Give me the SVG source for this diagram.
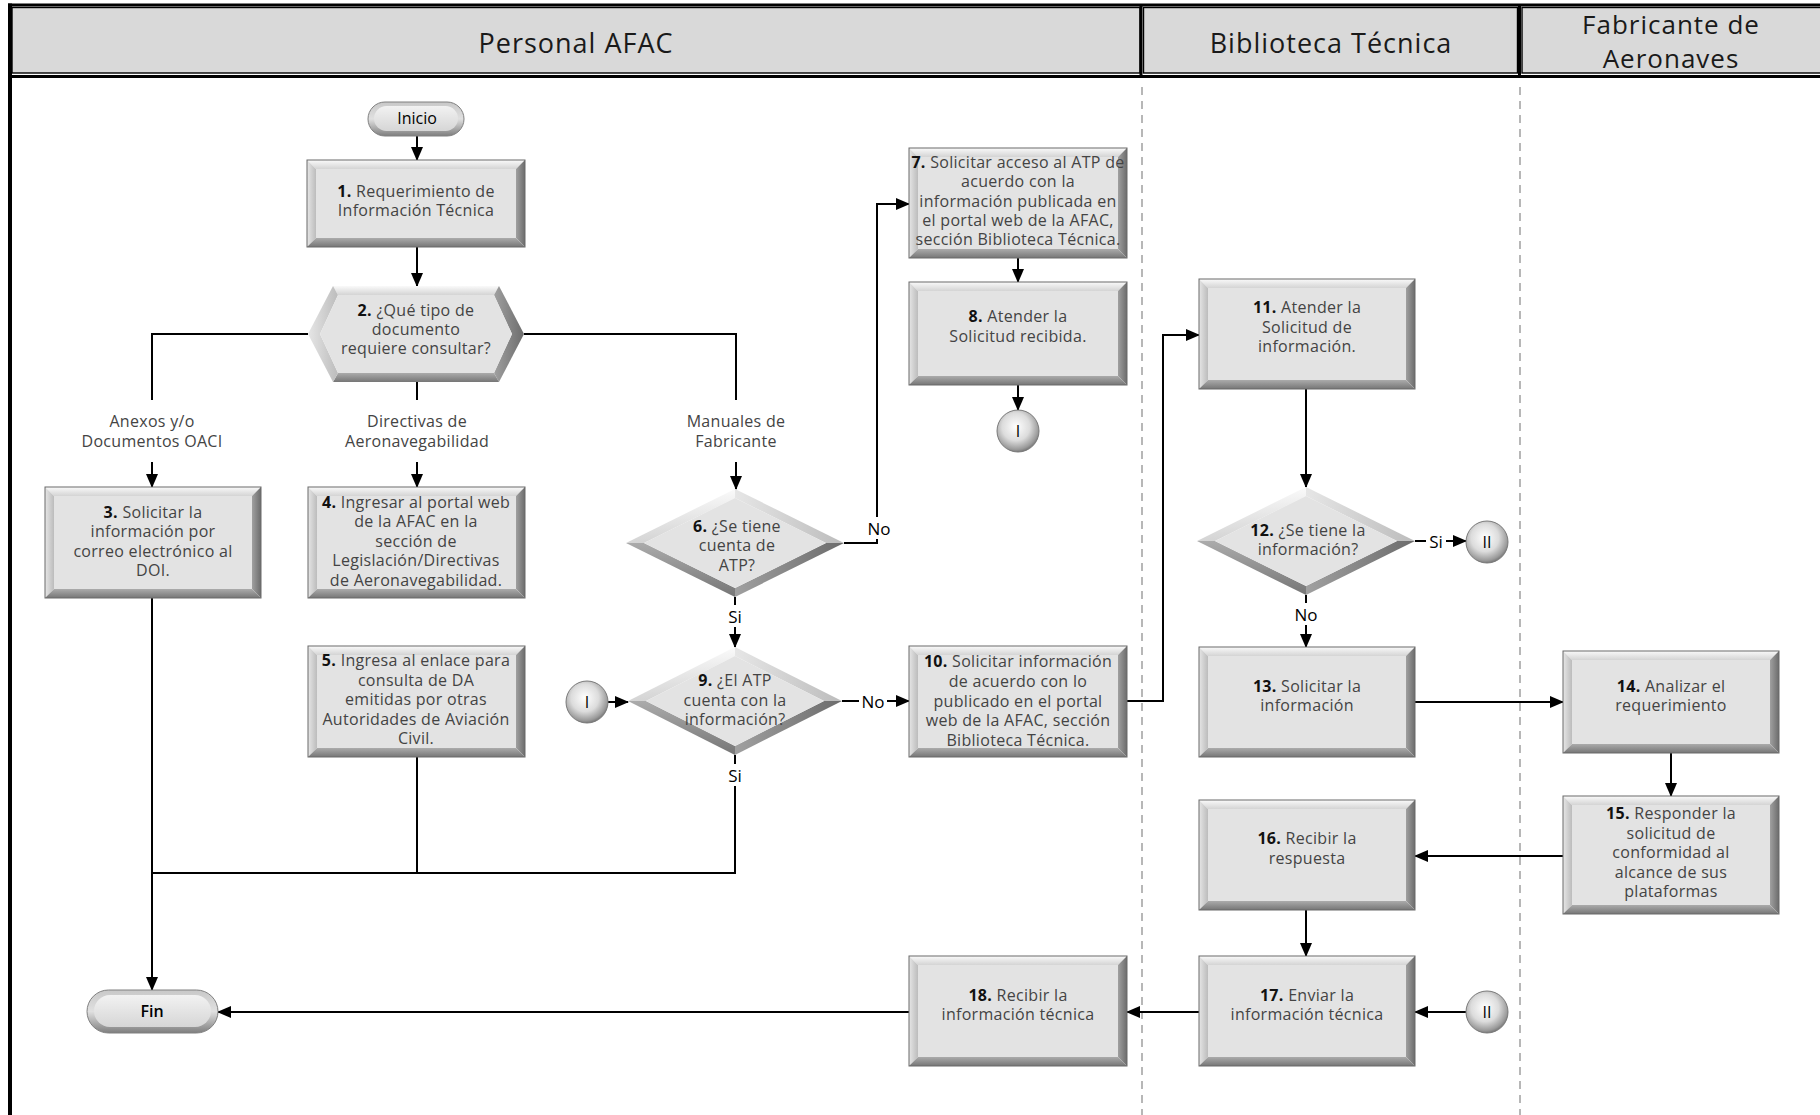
<svg xmlns="http://www.w3.org/2000/svg" width="1820" height="1115" viewBox="0 0 1820 1115">
<style>
.hd{fill:#d9d9d9;stroke:#000;stroke-width:1.4}
.ht{font-family:"Open Sans","Liberation Sans",sans-serif;font-size:27px;letter-spacing:1px;fill:#1a1a1a;text-anchor:middle;dominant-baseline:central}
.hs{font-size:26px}
.bt{fill:url(#gTop)}
.bl{fill:url(#gLeft)}
.br{fill:url(#gRight)}
.bb{fill:url(#gBot)}
.fc{fill:#e3e3e3}
.ol{fill:none;stroke:#6a6a6a;stroke-width:1}
.tx{font-family:"Open Sans","Liberation Sans",sans-serif;font-size:16px;letter-spacing:0.3px;fill:#444;text-anchor:middle;dominant-baseline:central}
.tx tspan.n{font-weight:700;fill:#111}
.lb{font-family:"Open Sans","Liberation Sans",sans-serif;font-size:17px;fill:#000;text-anchor:middle;dominant-baseline:central}
.cn{fill:none;stroke:#000;stroke-width:2}
.ar{marker-end:url(#arr)}
.lane{stroke:#a6a6a6;stroke-width:1.6;stroke-dasharray:8 6}
.wb{fill:#fff}
.ci{fill:url(#gCirc);stroke:#7a7a7a;stroke-width:1}
.ct{font-family:"Open Sans","Liberation Sans",sans-serif;font-size:16px;fill:#000;text-anchor:middle;dominant-baseline:central}
</style>
<defs>
<linearGradient id="gTop" x1="0" y1="0" x2="0" y2="1"><stop offset="0" stop-color="#fafafa"/><stop offset="1" stop-color="#d4d4d4"/></linearGradient>
<linearGradient id="gLeft" x1="0" y1="0" x2="1" y2="0"><stop offset="0" stop-color="#e6e6e6"/><stop offset="1" stop-color="#bcbcbc"/></linearGradient>
<linearGradient id="gRight" x1="0" y1="0" x2="1" y2="0"><stop offset="0" stop-color="#a0a0a0"/><stop offset="1" stop-color="#6c6c6c"/></linearGradient>
<linearGradient id="gBot" x1="0" y1="0" x2="0" y2="1"><stop offset="0" stop-color="#ababab"/><stop offset="1" stop-color="#767676"/></linearGradient>
<linearGradient id="gPill" x1="0" y1="0" x2="0" y2="1"><stop offset="0" stop-color="#c8c8c8"/><stop offset="0.5" stop-color="#e0e0e0"/><stop offset="1" stop-color="#7e7e7e"/></linearGradient>
<linearGradient id="gPillIn" x1="0" y1="0" x2="0" y2="1"><stop offset="0" stop-color="#f2f2f2"/><stop offset="1" stop-color="#d6d6d6"/></linearGradient>
<radialGradient id="gCirc" cx="0.45" cy="0.4" r="0.6"><stop offset="0" stop-color="#ffffff"/><stop offset="0.55" stop-color="#dcdcdc"/><stop offset="0.9" stop-color="#9a9a9a"/><stop offset="1" stop-color="#7a7a7a"/></radialGradient>
<marker id="arr" markerUnits="userSpaceOnUse" markerWidth="14" markerHeight="14" viewBox="0 0 14 14" refX="13" refY="7" orient="auto"><path d="M0,1 L14,7 L0,13 z" fill="#000"/></marker>
</defs>
<rect width="1820" height="1115" fill="#fff"/>

<g id="header">
<rect class="hd" x="12" y="7.5" width="1128" height="65.5"/>
<rect class="hd" x="1143.5" y="7.5" width="374" height="65.5"/>
<rect class="hd" x="1522" y="7.5" width="300" height="65.5"/>
<line x1="8" y1="5" x2="1820" y2="5" stroke="#000" stroke-width="3"/>
<line x1="8" y1="76.5" x2="1820" y2="76.5" stroke="#000" stroke-width="3"/>
<line x1="10" y1="3.5" x2="10" y2="1115" stroke="#000" stroke-width="4"/>
<line x1="1141" y1="4" x2="1141" y2="77" stroke="#000" stroke-width="3"/>
<line x1="1519.5" y1="4" x2="1519.5" y2="77" stroke="#000" stroke-width="3"/>
<text class="ht" x="576" y="42">Personal AFAC</text>
<text class="ht" x="1331" y="42">Biblioteca Técnica</text>
<text class="ht hs" x="1671" y="24">Fabricante de</text>
<text class="ht hs" x="1671" y="58">Aeronaves</text>
</g>

<g id="lanes">
<line class="lane" x1="1142" y1="87" x2="1142" y2="1115"/>
<line class="lane" x1="1520" y1="87" x2="1520" y2="1115"/>
</g>

<g id="connectors">
<path class="cn ar" d="M417,136 V160"/>
<path class="cn ar" d="M417,247 V286"/>
<path class="cn" d="M308,334 H152 V400"/>
<path class="cn ar" d="M152,462 V487"/>
<path class="cn" d="M417,382 V400"/>
<path class="cn ar" d="M417,462 V487"/>
<path class="cn" d="M524,334 H736 V400"/>
<path class="cn ar" d="M736,462 V489"/>
<path class="cn ar" d="M844,543 H877 V204 H909"/>
<path class="cn ar" d="M735,597 V647"/>
<path class="cn ar" d="M1018,258 V282"/>
<path class="cn ar" d="M1018,385 V410"/>
<path class="cn ar" d="M608,702 H628"/>
<path class="cn ar" d="M842,701 H909"/>
<path class="cn" d="M735,755 V873 H152"/>
<path class="cn" d="M417,757 V873"/>
<path class="cn ar" d="M152,598 V990"/>
<path class="cn ar" d="M1127,701 H1163 V335 H1199"/>
<path class="cn ar" d="M1306,389 V487"/>
<path class="cn ar" d="M1415,541 H1466"/>
<path class="cn ar" d="M1306,595 V647"/>
<path class="cn ar" d="M1415,702 H1563"/>
<path class="cn ar" d="M1671,753 V796"/>
<path class="cn ar" d="M1563,856 H1415"/>
<path class="cn ar" d="M1306,910 V956"/>
<path class="cn ar" d="M1466,1012 H1415"/>
<path class="cn ar" d="M1199,1012 H1127"/>
<path class="cn ar" d="M909,1012 H218"/>
<rect class="wb" x="865" y="517" width="28" height="22"/><text class="lb" x="879" y="528">No</text>
<rect class="wb" x="725" y="605" width="20" height="22"/><text class="lb" x="735" y="616">Si</text>
<rect class="wb" x="859" y="690" width="28" height="22"/><text class="lb" x="873" y="701">No</text>
<rect class="wb" x="725" y="764" width="20" height="22"/><text class="lb" x="735" y="775">Si</text>
<rect class="wb" x="1426" y="530" width="20" height="22"/><text class="lb" x="1436" y="541">Si</text>
<rect class="wb" x="1292" y="603" width="28" height="22"/><text class="lb" x="1306" y="614">No</text>
<rect class="wb" x="66" y="408" width="172" height="46"/>
<text class="tx" x="152" y="421">Anexos y/o</text><text class="tx" x="152" y="441">Documentos OACI</text>
<rect class="wb" x="330" y="408" width="174" height="46"/>
<text class="tx" x="417" y="421">Directivas de</text><text class="tx" x="417" y="441">Aeronavegabilidad</text>
<rect class="wb" x="676" y="408" width="120" height="46"/>
<text class="tx" x="736" y="421">Manuales de</text><text class="tx" x="736" y="441">Fabricante</text>
</g>

<g id="inicio">
<rect x="368" y="102" width="96" height="34" rx="17" fill="url(#gPill)" stroke="#808080"/>
<rect x="374" y="106" width="84" height="25" rx="12.5" fill="url(#gPillIn)"/>
<text class="ct" x="417" y="118" font-size="15">Inicio</text>
</g>

<g id="n1">
<polygon class="bt" points="307,160 525,160 516,169 316,169"/><polygon class="bl" points="307,160 316,169 316,238 307,247"/><polygon class="br" points="525,160 525,247 516,238 516,169"/><polygon class="bb" points="307,247 316,238 516,238 525,247"/><rect class="fc" x="316" y="169" width="200" height="69"/><rect class="ol" x="307" y="160" width="218" height="87"/>
<text class="tx" x="416" y="191"><tspan class="n">1.</tspan> Requerimiento de</text>
<text class="tx" x="416" y="210">Información Técnica</text>
</g>

<g id="n2">
<polygon class="bt" points="333,286 499,286 494,295 338,295"/>
<polygon class="bl" points="308,334 333,286 338,295 320,334"/>
<polygon class="br" points="499,286 524,334 512,334 494,295"/>
<polygon class="br" points="524,334 499,382 494,373 512,334"/>
<polygon class="bb" points="499,382 333,382 338,373 494,373"/>
<polygon class="bl" points="333,382 308,334 320,334 338,373"/>
<polygon class="fc" points="320,334 338,295 494,295 512,334 494,373 338,373"/>
<text class="tx" x="416" y="310"><tspan class="n">2.</tspan> ¿Qué tipo de</text>
<text class="tx" x="416" y="329">documento</text>
<text class="tx" x="416" y="348">requiere consultar?</text>
</g>

<g id="n3">
<polygon class="bt" points="45,487 261,487 252,496 54,496"/><polygon class="bl" points="45,487 54,496 54,589 45,598"/><polygon class="br" points="261,487 261,598 252,589 252,496"/><polygon class="bb" points="45,598 54,589 252,589 261,598"/><rect class="fc" x="54" y="496" width="198" height="93"/><rect class="ol" x="45" y="487" width="216" height="111"/>
<text class="tx" x="153" y="512"><tspan class="n">3.</tspan> Solicitar la</text>
<text class="tx" x="153" y="531">información por</text>
<text class="tx" x="153" y="551">correo electrónico al</text>
<text class="tx" x="153" y="570">DOI.</text>
</g>

<g id="n4">
<polygon class="bt" points="308,487 525,487 516,496 317,496"/><polygon class="bl" points="308,487 317,496 317,589 308,598"/><polygon class="br" points="525,487 525,598 516,589 516,496"/><polygon class="bb" points="308,598 317,589 516,589 525,598"/><rect class="fc" x="317" y="496" width="199" height="93"/><rect class="ol" x="308" y="487" width="217" height="111"/>
<text class="tx" x="416" y="502"><tspan class="n">4.</tspan> Ingresar al portal web</text>
<text class="tx" x="416" y="521">de la AFAC en la</text>
<text class="tx" x="416" y="541">sección de</text>
<text class="tx" x="416" y="560">Legislación/Directivas</text>
<text class="tx" x="416" y="580">de Aeronavegabilidad.</text>
</g>

<g id="n5">
<polygon class="bt" points="308,646 525,646 516,655 317,655"/><polygon class="bl" points="308,646 317,655 317,748 308,757"/><polygon class="br" points="525,646 525,757 516,748 516,655"/><polygon class="bb" points="308,757 317,748 516,748 525,757"/><rect class="fc" x="317" y="655" width="199" height="93"/><rect class="ol" x="308" y="646" width="217" height="111"/>
<text class="tx" x="416" y="660"><tspan class="n">5.</tspan> Ingresa al enlace para</text>
<text class="tx" x="416" y="680">consulta de DA</text>
<text class="tx" x="416" y="699">emitidas por otras</text>
<text class="tx" x="416" y="719">Autoridades de Aviación</text>
<text class="tx" x="416" y="738">Civil.</text>
</g>

<g id="n6">
<polygon class="bt" points="626,543 735,489 735,498 644,543"/>
<polygon class="bl" points="735,489 844,543 826,543 735,498"/>
<polygon class="br" points="844,543 735,597 735,588 826,543"/>
<polygon class="bb" points="735,597 626,543 644,543 735,588"/>
<polygon class="fc" points="644,543 735,498 826,543 735,588"/>
<text class="tx" x="737" y="526"><tspan class="n">6.</tspan> ¿Se tiene</text>
<text class="tx" x="737" y="545">cuenta de</text>
<text class="tx" x="737" y="565">ATP?</text>
</g>

<g id="n7">
<polygon class="bt" points="909,148 1127,148 1118,157 918,157"/><polygon class="bl" points="909,148 918,157 918,249 909,258"/><polygon class="br" points="1127,148 1127,258 1118,249 1118,157"/><polygon class="bb" points="909,258 918,249 1118,249 1127,258"/><rect class="fc" x="918" y="157" width="200" height="92"/><rect class="ol" x="909" y="148" width="218" height="110"/>
<text class="tx" x="1018" y="162"><tspan class="n">7.</tspan> Solicitar acceso al ATP de</text>
<text class="tx" x="1018" y="181">acuerdo con la</text>
<text class="tx" x="1018" y="201">información publicada en</text>
<text class="tx" x="1018" y="220">el portal web de la AFAC,</text>
<text class="tx" x="1018" y="239">sección Biblioteca Técnica.</text>
</g>

<g id="n8">
<polygon class="bt" points="909,282 1127,282 1118,291 918,291"/><polygon class="bl" points="909,282 918,291 918,376 909,385"/><polygon class="br" points="1127,282 1127,385 1118,376 1118,291"/><polygon class="bb" points="909,385 918,376 1118,376 1127,385"/><rect class="fc" x="918" y="291" width="200" height="85"/><rect class="ol" x="909" y="282" width="218" height="103"/>
<text class="tx" x="1018" y="316"><tspan class="n">8.</tspan> Atender la</text>
<text class="tx" x="1018" y="336">Solicitud recibida.</text>
</g>

<g id="c1a">
<circle class="ci" cx="1018" cy="431" r="21"/>
<text class="ct" x="1018" y="431">I</text>
</g>

<g id="c1b">
<circle class="ci" cx="587" cy="702" r="21"/>
<text class="ct" x="587" y="702">I</text>
</g>

<g id="n9">
<polygon class="bt" points="628,701 735,647 735,656 646,701"/>
<polygon class="bl" points="735,647 842,701 824,701 735,656"/>
<polygon class="br" points="842,701 735,755 735,746 824,701"/>
<polygon class="bb" points="735,755 628,701 646,701 735,746"/>
<polygon class="fc" points="646,701 735,656 824,701 735,746"/>
<text class="tx" x="735" y="680"><tspan class="n">9.</tspan> ¿El ATP</text>
<text class="tx" x="735" y="700">cuenta con la</text>
<text class="tx" x="735" y="719">información?</text>
</g>

<g id="n10">
<polygon class="bt" points="909,646 1127,646 1118,655 918,655"/><polygon class="bl" points="909,646 918,655 918,748 909,757"/><polygon class="br" points="1127,646 1127,757 1118,748 1118,655"/><polygon class="bb" points="909,757 918,748 1118,748 1127,757"/><rect class="fc" x="918" y="655" width="200" height="93"/><rect class="ol" x="909" y="646" width="218" height="111"/>
<text class="tx" x="1018" y="661"><tspan class="n">10.</tspan> Solicitar información</text>
<text class="tx" x="1018" y="681">de acuerdo con lo</text>
<text class="tx" x="1018" y="701">publicado en el portal</text>
<text class="tx" x="1018" y="720">web de la AFAC, sección</text>
<text class="tx" x="1018" y="740">Biblioteca Técnica.</text>
</g>

<g id="n11">
<polygon class="bt" points="1199,279 1415,279 1406,288 1208,288"/><polygon class="bl" points="1199,279 1208,288 1208,380 1199,389"/><polygon class="br" points="1415,279 1415,389 1406,380 1406,288"/><polygon class="bb" points="1199,389 1208,380 1406,380 1415,389"/><rect class="fc" x="1208" y="288" width="198" height="92"/><rect class="ol" x="1199" y="279" width="216" height="110"/>
<text class="tx" x="1307" y="307"><tspan class="n">11.</tspan> Atender la</text>
<text class="tx" x="1307" y="327">Solicitud de</text>
<text class="tx" x="1307" y="346">información.</text>
</g>

<g id="n12">
<polygon class="bt" points="1197,541 1306,487 1306,496 1215,541"/>
<polygon class="bl" points="1306,487 1415,541 1397,541 1306,496"/>
<polygon class="br" points="1415,541 1306,595 1306,586 1397,541"/>
<polygon class="bb" points="1306,595 1197,541 1215,541 1306,586"/>
<polygon class="fc" points="1215,541 1306,496 1397,541 1306,586"/>
<text class="tx" x="1308" y="530"><tspan class="n">12.</tspan> ¿Se tiene la</text>
<text class="tx" x="1308" y="549">información?</text>
</g>

<g id="c2a">
<circle class="ci" cx="1487" cy="542" r="21"/>
<text class="ct" x="1487" y="542">II</text>
</g>

<g id="n13">
<polygon class="bt" points="1199,647 1415,647 1406,656 1208,656"/><polygon class="bl" points="1199,647 1208,656 1208,748 1199,757"/><polygon class="br" points="1415,647 1415,757 1406,748 1406,656"/><polygon class="bb" points="1199,757 1208,748 1406,748 1415,757"/><rect class="fc" x="1208" y="656" width="198" height="92"/><rect class="ol" x="1199" y="647" width="216" height="110"/>
<text class="tx" x="1307" y="686"><tspan class="n">13.</tspan> Solicitar la</text>
<text class="tx" x="1307" y="705">información</text>
</g>

<g id="n14">
<polygon class="bt" points="1563,651 1779,651 1770,660 1572,660"/><polygon class="bl" points="1563,651 1572,660 1572,744 1563,753"/><polygon class="br" points="1779,651 1779,753 1770,744 1770,660"/><polygon class="bb" points="1563,753 1572,744 1770,744 1779,753"/><rect class="fc" x="1572" y="660" width="198" height="84"/><rect class="ol" x="1563" y="651" width="216" height="102"/>
<text class="tx" x="1671" y="686"><tspan class="n">14.</tspan> Analizar el</text>
<text class="tx" x="1671" y="705">requerimiento</text>
</g>

<g id="n15">
<polygon class="bt" points="1563,796 1779,796 1770,805 1572,805"/><polygon class="bl" points="1563,796 1572,805 1572,905 1563,914"/><polygon class="br" points="1779,796 1779,914 1770,905 1770,805"/><polygon class="bb" points="1563,914 1572,905 1770,905 1779,914"/><rect class="fc" x="1572" y="805" width="198" height="100"/><rect class="ol" x="1563" y="796" width="216" height="118"/>
<text class="tx" x="1671" y="813"><tspan class="n">15.</tspan> Responder la</text>
<text class="tx" x="1671" y="833">solicitud de</text>
<text class="tx" x="1671" y="852">conformidad al</text>
<text class="tx" x="1671" y="872">alcance de sus</text>
<text class="tx" x="1671" y="891">plataformas</text>
</g>

<g id="n16">
<polygon class="bt" points="1199,800 1415,800 1406,809 1208,809"/><polygon class="bl" points="1199,800 1208,809 1208,901 1199,910"/><polygon class="br" points="1415,800 1415,910 1406,901 1406,809"/><polygon class="bb" points="1199,910 1208,901 1406,901 1415,910"/><rect class="fc" x="1208" y="809" width="198" height="92"/><rect class="ol" x="1199" y="800" width="216" height="110"/>
<text class="tx" x="1307" y="838"><tspan class="n">16.</tspan> Recibir la</text>
<text class="tx" x="1307" y="858">respuesta</text>
</g>

<g id="n17">
<polygon class="bt" points="1199,956 1415,956 1406,965 1208,965"/><polygon class="bl" points="1199,956 1208,965 1208,1057 1199,1066"/><polygon class="br" points="1415,956 1415,1066 1406,1057 1406,965"/><polygon class="bb" points="1199,1066 1208,1057 1406,1057 1415,1066"/><rect class="fc" x="1208" y="965" width="198" height="92"/><rect class="ol" x="1199" y="956" width="216" height="110"/>
<text class="tx" x="1307" y="995"><tspan class="n">17.</tspan> Enviar la</text>
<text class="tx" x="1307" y="1014">información técnica</text>
</g>

<g id="c2b">
<circle class="ci" cx="1487" cy="1012" r="21"/>
<text class="ct" x="1487" y="1012">II</text>
</g>

<g id="n18">
<polygon class="bt" points="909,956 1127,956 1118,965 918,965"/><polygon class="bl" points="909,956 918,965 918,1057 909,1066"/><polygon class="br" points="1127,956 1127,1066 1118,1057 1118,965"/><polygon class="bb" points="909,1066 918,1057 1118,1057 1127,1066"/><rect class="fc" x="918" y="965" width="200" height="92"/><rect class="ol" x="909" y="956" width="218" height="110"/>
<text class="tx" x="1018" y="995"><tspan class="n">18.</tspan> Recibir la</text>
<text class="tx" x="1018" y="1014">información técnica</text>
</g>

<g id="fin">
<rect x="87" y="990" width="131" height="43" rx="21.5" fill="url(#gPill)" stroke="#808080"/>
<rect x="94" y="995" width="117" height="32" rx="16" fill="url(#gPillIn)"/>
<text class="ct" x="152" y="1011" font-weight="600">Fin</text>
</g>
</svg>
